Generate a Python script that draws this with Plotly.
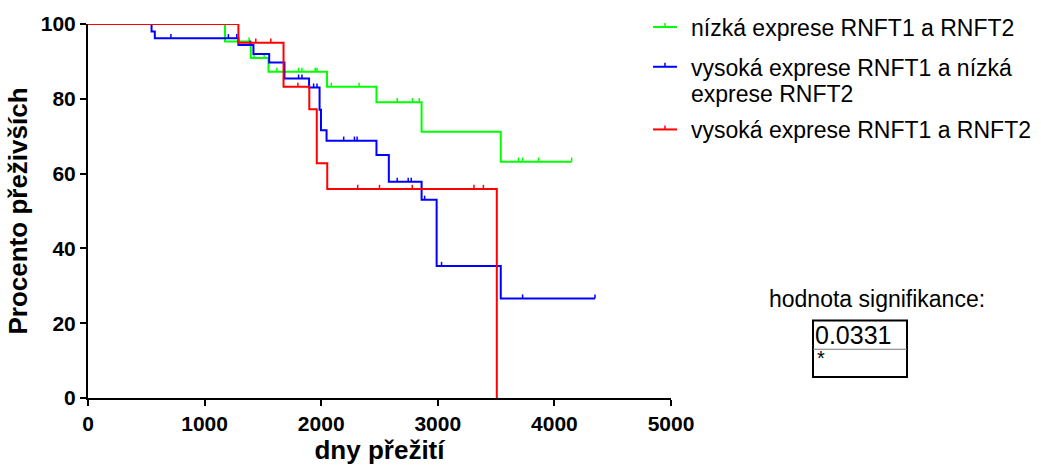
import numpy as np
import plotly.graph_objects as go

# Kaplan-Meier curves: step times (days) and survival (%) after each step
green_t = [0, 1175, 1396, 1548, 2050, 2474, 2861, 3540, 4148]
green_s = [100, 95.3, 90.9, 87.2, 83.2, 79.1, 71.2, 63.2, 63.2]
green_censor = [1382, 1425, 1511, 1620, 1806, 1835, 1949, 1964, 2087, 2325,
                2652, 2783, 2841, 3692, 3727, 3864, 4148]

blue_t = [0, 545, 573, 1290, 1419, 1554, 1685, 1896, 1986, 1998, 2046,
          2474, 2580, 2861, 2990, 3540, 4348]
blue_s = [100, 98.0, 96.2, 94.4, 92.0, 89.7, 85.4, 83.0, 77.1, 71.6, 68.8,
          65.0, 57.8, 53.0, 35.3, 26.6, 26.6]
blue_censor = [711, 1204, 1276, 1390, 1806, 1835, 1935, 1964, 2193, 2285,
               2308, 2652, 2746, 2772, 2887, 3032, 3727, 4348]

red_t = [0, 1290, 1677, 1898, 1962, 2052, 3506]
red_s = [100, 95.0, 83.2, 77.2, 62.8, 55.9, 0]
red_censor = [1439, 1568, 1800, 2313, 2500, 2781, 3310, 3391]

# legend entries, one list of text lines per group
labels = [["nízká exprese RNFT1 a RNFT2"],
          ["vysoká exprese RNFT1 a nízká", "exprese RNFT2"],
          ["vysoká exprese RNFT1 a RNFT2"]]
colors = ["#00FF00", "#0000FF", "#FF0000"]

x_ticks = [0, 1000, 2000, 3000, 4000, 5000]
y_ticks = [0, 20, 40, 60, 80, 100]
p_value = "0.0331"
p_stars = "*"

TICK_UP = 1.1  # censor tick height in % units

fig = go.Figure()


def add_group(t, s, censor, color):
    fig.add_trace(go.Scatter(x=t, y=s, mode="lines", line_shape="hv",
                             line=dict(color=color, width=2),
                             cliponaxis=False, showlegend=False,
                             hoverinfo="skip"))
    t_arr = np.asarray(t, dtype=float)
    s_arr = np.asarray(s, dtype=float)
    cx, cy = [], []
    for c in censor:
        level = s_arr[np.searchsorted(t_arr, c, side="right") - 1]
        cx += [c, c, None]
        cy += [level, level + TICK_UP, None]
    fig.add_trace(go.Scatter(x=cx, y=cy, mode="lines",
                             line=dict(color=color, width=1.5),
                             cliponaxis=False, showlegend=False,
                             hoverinfo="skip"))


add_group(green_t, green_s, green_censor, colors[0])
add_group(blue_t, blue_s, blue_censor, colors[1])
add_group(red_t, red_s, red_censor, colors[2])

# plot area geometry (pixels) for placing the legend and the p-value box
W, H = 1041, 467
ML, MR, MT, MB = 88, 370, 24, 67
PW, PH = W - ML - MR, H - MT - MB


def px(xp):
    return (xp - ML) / PW


def py(yp):
    return (H - MB - yp) / PH


shapes = []
annotations = []
font_reg = "Liberation Sans"

# legend: short line with a censor tick, then the label lines
legend_line_y = [27, 67, 130]
legend_text_y = [[28], [68, 94], [131]]
for lines, col, yl, ys in zip(labels, colors, legend_line_y, legend_text_y):
    shapes.append(dict(type="line", xref="paper", yref="paper",
                       x0=px(653), x1=px(677), y0=py(yl), y1=py(yl),
                       line=dict(color=col, width=2)))
    shapes.append(dict(type="line", xref="paper", yref="paper",
                       x0=px(665), x1=px(665), y0=py(yl), y1=py(yl - 4),
                       line=dict(color=col, width=1.5)))
    for txt, yc in zip(lines, ys):
        annotations.append(dict(text=txt, xref="paper", yref="paper",
                                x=px(689), y=py(yc), xanchor="left",
                                yanchor="middle", showarrow=False,
                                align="left",
                                font=dict(family=font_reg, size=23,
                                          color="black")))

# significance box
annotations.append(dict(text="hodnota signifikance:", xref="paper",
                        yref="paper", x=px(877), y=py(300), xanchor="center",
                        yanchor="middle", showarrow=False,
                        font=dict(family=font_reg, size=23, color="black")))
shapes.append(dict(type="rect", xref="paper", yref="paper",
                   x0=px(813), x1=px(907), y0=py(322), y1=py(379),
                   line=dict(color="black", width=2)))
shapes.append(dict(type="line", xref="paper", yref="paper",
                   x0=px(813), x1=px(907), y0=py(351), y1=py(351),
                   line=dict(color="#777777", width=1)))
annotations.append(dict(text=p_value, xref="paper", yref="paper",
                        x=px(813), y=py(337), xanchor="left",
                        yanchor="middle", showarrow=False,
                        font=dict(family=font_reg, size=25, color="black")))
annotations.append(dict(text=p_stars, xref="paper", yref="paper",
                        x=px(815), y=py(360), xanchor="left",
                        yanchor="middle", showarrow=False,
                        font=dict(family=font_reg, size=20, color="black")))

axis_font = dict(family=font_reg, size=21, color="black")
title_font = dict(family=font_reg, size=26, color="black")

fig.update_layout(
    width=W, height=H,
    margin=dict(l=ML, r=MR, t=MT, b=MB, pad=0),
    paper_bgcolor="white", plot_bgcolor="white",
    shapes=shapes, annotations=annotations,
    xaxis=dict(range=[0, 5000], tickvals=x_ticks,
               ticktext=[f"<b>{v}</b>" for v in x_ticks],
               showgrid=False, zeroline=False, showline=True,
               linecolor="black", linewidth=2, ticks="outside",
               ticklen=6, tickwidth=2, tickcolor="black",
               tickfont=axis_font,
               title=dict(text="<b>dny přežití</b>", font=title_font,
                          standoff=2)),
    yaxis=dict(range=[0, 100], tickvals=y_ticks,
               ticktext=[f"<b>{v}</b>" for v in y_ticks],
               showgrid=False, zeroline=False, showline=True,
               linecolor="black", linewidth=2, ticks="outside",
               ticklen=6, tickwidth=2, tickcolor="black",
               tickfont=axis_font,
               title=dict(text="<b>Procento přeživších</b>",
                          font=title_font, standoff=6)),
)

fig.write_html("out.html")
